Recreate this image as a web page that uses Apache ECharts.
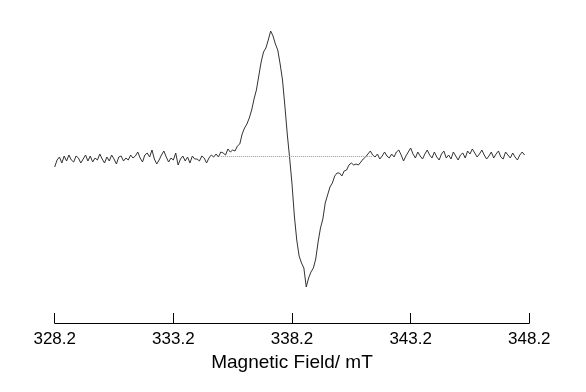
<!DOCTYPE html>
<html>
<head>
<meta charset="utf-8">
<script src="https://cdn.jsdelivr.net/npm/echarts@6/dist/echarts.min.js"></script>
<style>
  html, body { margin: 0; padding: 0; background: #fff; }
  #chart { width: 586px; height: 392px; }
</style>
</head>
<body>
<div id="chart"></div>
<script>
// field sweep (mT), sampled every 0.1 mT
const fieldStart = 328.2
const fieldStep = 0.1
// first-derivative ESR signal, arbitrary units
const intensity = [
  -11, -4, -1, -7, 0, -5, 1, -4, -6, 0,
  -2, -7, -3, 1, -5, 0, -6, -2, -4, 2,
  -3, -7, -1, -5, 1, -3, -8, -1, 0, -5,
  -2, -4, 1, -2, 0, 4, -2, -6, 1, 3,
  -1, 6, -3, -8, -4, 1, 5, -1, -6, -2,
  -4, 3, -9, -3, 0, -5, -1, -7, 0, -3,
  -3, -5, 0, -2, -7, -2, 1, -1, 2, -1,
  4, 3, 1, 7, 4, 6, 5, 10, 12, 22,
  28, 32, 38, 46, 57, 66, 80, 94, 104, 108,
  116, 125, 120, 112, 106, 92, 76, 50, 22, -2,
  -28, -60, -84, -100, -107, -112, -131, -122, -116, -112,
  -103, -86, -72, -63, -47, -39, -31, -27, -20, -17,
  -17, -20, -15, -14, -9, -7, -9, -8, -9, -6,
  -3, -1, 2, 5, 1, -1, 2, -3, 0, 4,
  0, -2, 2, -1, 4, 6, 1, -5, 0, 4,
  8, 2, -2, 4, 0, -3, 2, 6, 1, -2,
  4, -1, -4, 2, 5, -2, 1, -3, 4, 0,
  -4, 1, 3, -2, 5, 2, 7, 3, -1, 2,
  6, 1, -3, 0, 4, -2, 2, 5, -1, -3,
  4, 1, -2, 3, -1, -4, 1, 4, 1
]
const axisMin = 328.2
const axisMax = 348.2
const tickStep = 5
const baselineRange = [335.2, 341.6]

const points = intensity.map((v, i) => [+(fieldStart + i * fieldStep).toFixed(1), v])

const chart = echarts.init(document.getElementById('chart'))
chart.setOption({
  animation: false,
  backgroundColor: '#fff',
  grid: { left: 54.7, right: 56.7, top: 20, bottom: 69 },
  xAxis: {
    type: 'value',
    min: axisMin,
    max: axisMax,
    interval: tickStep,
    name: 'Magnetic Field/ mT',
    nameLocation: 'middle',
    nameGap: 30,
    nameTextStyle: { color: '#000', fontSize: 19, fontFamily: 'Liberation Sans' },
    axisLine: { onZero: false, lineStyle: { color: '#000', width: 1 } },
    axisTick: { inside: true, length: 10, lineStyle: { color: '#000' } },
    axisLabel: {
      color: '#000',
      fontSize: 17,
      fontFamily: 'Liberation Sans',
      margin: 8,
      formatter: v => v.toFixed(1)
    },
    splitLine: { show: false }
  },
  yAxis: {
    type: 'value',
    min: -167,
    max: 136,
    show: false
  },
  series: [
    {
      type: 'line',
      data: points,
      showSymbol: false,
      lineStyle: { color: '#333', width: 1 },
      markLine: {
        silent: true,
        symbol: 'none',
        label: { show: false },
        lineStyle: { color: '#999', type: 'dotted', width: 1 },
        data: [[{ coord: [baselineRange[0], 0] }, { coord: [baselineRange[1], 0] }]]
      },
      z: 3
    }
  ]
})
</script>
</body>
</html>
